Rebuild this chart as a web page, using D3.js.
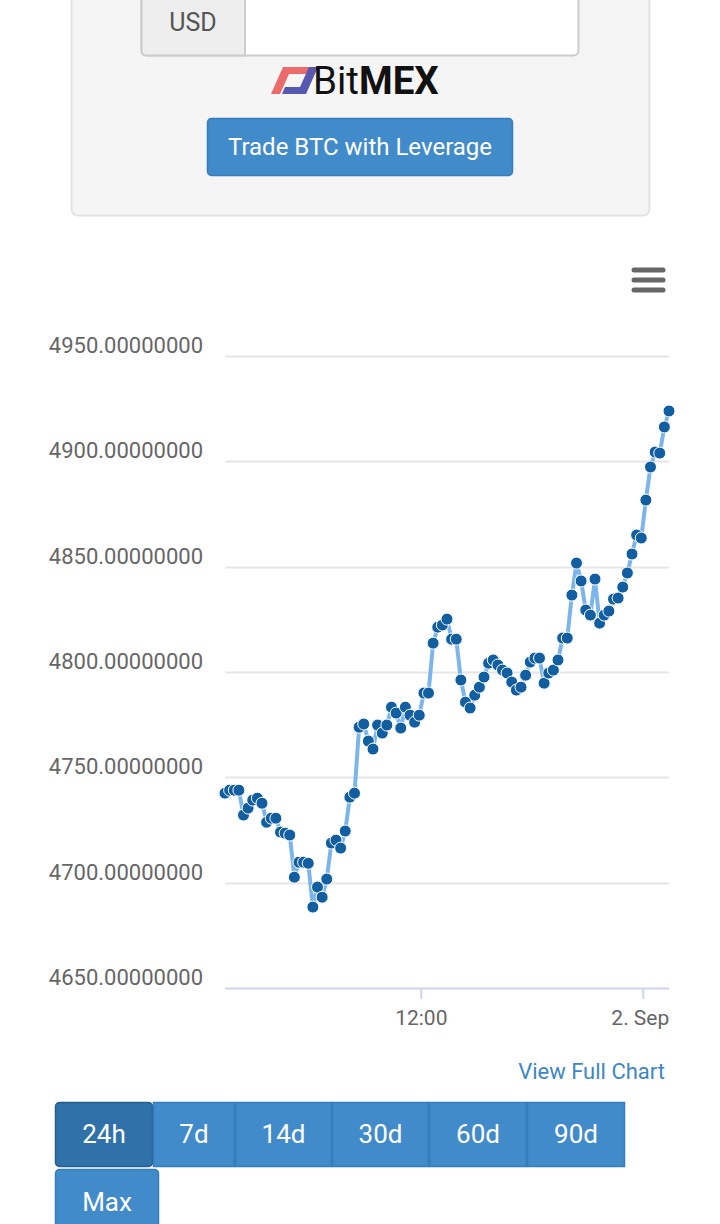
<!DOCTYPE html>
<html><head><meta charset="utf-8">
<script src="https://cdn.jsdelivr.net/npm/d3@7"></script>
<style>
html,body{margin:0;padding:0;background:#fff;width:720px;height:1224px;overflow:hidden;}
svg{display:block;font-family:Roboto,"Noto Sans",sans-serif;}
</style></head><body>
<svg id="c" width="720" height="1224"></svg>
<script>
// ---- data ----
const yTicks = [4650, 4700, 4750, 4800, 4850, 4900, 4950];
const xTickTimes = ["2018-09-01 12:00", "2018-09-02 00:00"];
const xTickLabels = ["12:00", "2. Sep"];
const startTime = "2018-09-01 01:25";
const endTime = "2018-09-02 01:25";
const intervalMinutes = 15;
const prices = [
  4742.5, 4743.9, 4743.9, 4743.9, 4732.1, 4735.4, 4739.2, 4740.1, 4737.7, 4728.7,
  4730.6, 4730.6, 4724.0, 4723.5, 4722.6, 4702.6, 4709.7, 4709.7, 4709.2, 4688.4,
  4697.9, 4693.1, 4701.7, 4718.8, 4720.2, 4716.4, 4724.5, 4740.6, 4742.5, 4773.8,
  4775.3, 4767.2, 4763.4, 4774.8, 4771.0, 4774.8, 4783.3, 4780.5, 4773.4, 4783.3,
  4779.5, 4776.2, 4779.5, 4790.0, 4790.0, 4813.7, 4821.3, 4822.3, 4825.1, 4815.6,
  4815.6, 4796.2, 4785.7, 4782.9, 4789.0, 4792.8, 4797.6, 4804.2, 4805.7, 4803.3,
  4800.9, 4799.5, 4795.2, 4791.4, 4792.8, 4798.5, 4804.7, 4806.6, 4806.6, 4794.7,
  4799.5, 4800.9, 4805.7, 4816.1, 4816.1, 4836.5, 4851.7, 4843.2, 4829.4, 4827.0,
  4844.1, 4823.2, 4827.0, 4828.9, 4834.6, 4835.1, 4840.3, 4847.0, 4856.0, 4865.0,
  4863.6, 4881.6, 4897.3, 4904.4, 4903.9, 4916.3, 4923.9
];
const rangeButtons = ["24h", "7d", "14d", "30d", "60d", "90d"];
const extraButtons = ["Max"];
const currencyLabel = "USD";
const tradeLabel = "Trade BTC with Leverage";
const linkLabel = "View Full Chart";

// ---- build ----
const parse = d3.timeParse("%Y-%m-%d %H:%M");
const t0 = parse(startTime);
const series = prices.map((p, i) => ({ t: d3.timeMinute.offset(t0, i * intervalMinutes), v: p }));

const svg = d3.select("#c");

// top panel
svg.append("rect").attr("x", 71.5).attr("y", -20).attr("width", 578).attr("height", 235.5)
  .attr("rx", 6).attr("fill", "#f5f5f5").attr("stroke", "#e3e3e3").attr("stroke-width", 2);
// input group
svg.append("rect").attr("x", 141.5).attr("y", -20).attr("width", 437).attr("height", 75.5)
  .attr("rx", 5).attr("fill", "#fff").attr("stroke", "#cccccc").attr("stroke-width", 2);
svg.append("path").attr("d", "M245,-20 V55.5 H146.5 Q141.5,55.5 141.5,50.5 V-20 Z")
  .attr("fill", "#eeeeee").attr("stroke", "#cccccc").attr("stroke-width", 2);
svg.append("text").attr("x", 193).attr("y", 31).attr("text-anchor", "middle")
  .attr("font-size", 25).attr("fill", "#555").text(currencyLabel);

// BitMEX logo
svg.append("path").attr("d", "M271,94 L283,67 L310,67 L307,74 L289,74 L280,94 Z").attr("fill", "#ec6a6a");
svg.append("path").attr("d", "M282,94 L306,94 L318,67 L309,67 L300,87 L285,87 Z").attr("fill", "#5759b0");
const logo = svg.append("text").attr("x", 313).attr("y", 94).attr("font-size", 38.5).attr("fill", "#111");
logo.append("tspan").attr("font-weight", 400).text("Bit");
logo.append("tspan").attr("font-weight", 700).text("MEX");

// trade button
svg.append("rect").attr("x", 207.5).attr("y", 118.5).attr("width", 305).attr("height", 57)
  .attr("rx", 4).attr("fill", "#428bca").attr("stroke", "#357ebd").attr("stroke-width", 1.5);
svg.append("text").attr("x", 360).attr("y", 155).attr("text-anchor", "middle")
  .attr("font-size", 24).attr("fill", "#fff").text(tradeLabel);

// hamburger
[270, 280, 290].forEach(yy => svg.append("line").attr("x1", 634).attr("x2", 663)
  .attr("y1", yy).attr("y2", yy).attr("stroke", "#666").attr("stroke-width", 5).attr("stroke-linecap", "round"));

// chart scales
const x = d3.scaleTime().domain([parse(startTime), parse(endTime)]).range([225, 669]);
const y = d3.scaleLinear().domain([4650, 4950]).range([988, 356]);

// grid
svg.append("g").selectAll("line").data(yTicks.filter(v => v !== 4650)).join("line")
  .attr("x1", 225).attr("x2", 669).attr("y1", d => Math.round(y(d)) + 0.5).attr("y2", d => Math.round(y(d)) + 0.5)
  .attr("stroke", "#e6e6e6").attr("stroke-width", 2);

// y labels
svg.append("g").selectAll("text").data(yTicks).join("text")
  .attr("x", 203).attr("y", d => y(d) - 3).attr("text-anchor", "end")
  .attr("font-size", 22).attr("fill", "#666").text(d => d3.format(".8f")(d));

// x axis
const xAxis = d3.axisBottom(x)
  .tickValues(xTickTimes.map(parse))
  .tickFormat((d, i) => xTickLabels[i])
  .tickSize(11).tickPadding(11);
const gx = svg.append("g").attr("transform", "translate(0,988)").call(xAxis);
gx.select(".domain").attr("stroke", "#ccd6eb").attr("stroke-width", 2).attr("d", "M225,0.5H669");
gx.selectAll(".tick line").attr("stroke", "#ccd6eb").attr("stroke-width", 2);
gx.selectAll(".tick text").attr("font-size", 21).attr("fill", "#666").attr("font-family", "Roboto,sans-serif")
  .attr("dx", (d, i) => i === xTickLabels.length - 1 ? -3 : 0);

// line
svg.append("path").datum(series)
  .attr("d", d3.line().x(d => x(d.t)).y(d => y(d.v)))
  .attr("fill", "none").attr("stroke", "#7cb5ec").attr("stroke-width", 4)
  .attr("stroke-linejoin", "round").attr("stroke-linecap", "round");

// markers
svg.append("g").selectAll("circle").data(series).join("circle")
  .attr("cx", d => x(d.t)).attr("cy", d => y(d.v)).attr("r", 6)
  .attr("fill", "#115ea1").attr("stroke", "#fff").attr("stroke-width", 1);

// link
svg.append("text").attr("x", 665).attr("y", 1079).attr("text-anchor", "end")
  .attr("font-size", 22).attr("fill", "#3d87c2").text(linkLabel);

// range buttons
const bx = d3.scaleOrdinal().domain(rangeButtons).range([55, 153, 235, 332, 429, 527]);
const bw = [98, 82, 97, 97, 98, 98];
const gb = svg.append("g");
rangeButtons.forEach((b, i) => {
  gb.append("rect").attr("x", bx(b) + 0.5).attr("y", 1102.5).attr("width", bw[i] - 1).attr("height", 64)
    .attr("rx", i === 0 ? 4 : 0)
    .attr("fill", i === 0 ? "#3071a9" : "#428bca").attr("stroke", i === 0 ? "#285e8e" : "#357ebd").attr("stroke-width", 1.5);
  gb.append("text").attr("x", bx(b) + bw[i] / 2).attr("y", 1143).attr("text-anchor", "middle")
    .attr("font-size", 26).attr("fill", "#fff").text(b);
});
extraButtons.forEach(b => {
  gb.append("rect").attr("x", 55.5).attr("y", 1169.5).attr("width", 103).attr("height", 80)
    .attr("rx", 4).attr("fill", "#428bca").attr("stroke", "#357ebd").attr("stroke-width", 1.5);
  gb.append("text").attr("x", 107).attr("y", 1211).attr("text-anchor", "middle")
    .attr("font-size", 26).attr("fill", "#fff").text(b);
});
</script>
</body></html>
